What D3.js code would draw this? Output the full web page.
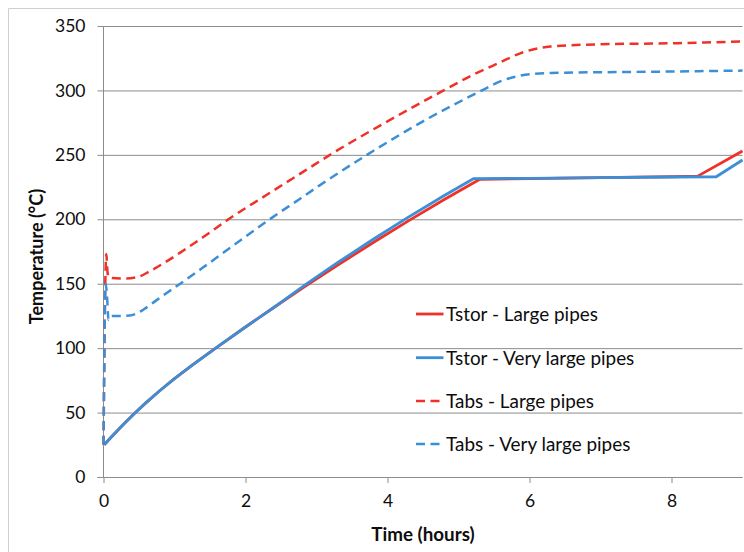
<!DOCTYPE html>
<html>
<head>
<meta charset="utf-8">
<script src="https://cdn.jsdelivr.net/npm/d3@7"></script>
<style>
  html, body { margin: 0; padding: 0; background: #fff; }
  svg { display: block; font-family: Lato, "Open Sans", "Noto Sans", sans-serif; }
</style>
</head>
<body>
<svg id="chart" width="744" height="552"></svg>
<script>
// Axis ticks
const xTicks = [0, 2, 4, 6, 8];
const yTicks = [0, 50, 100, 150, 200, 250, 300, 350];

// Series labels
const seriesNames = [
  "Tstor - Large pipes",
  "Tstor - Very large pipes",
  "Tabs - Large pipes",
  "Tabs - Very large pipes"
];

// Storage temperature, large pipes (time in hours, temperature in °C)
const tstorLargeTime = [0.01, 0.15, 0.3, 0.45, 0.6, 0.8, 1.0, 1.25, 1.57, 2.0, 2.45, 2.85, 3.3, 3.8, 4.3, 4.8, 5.3, 6, 7, 8, 8.37, 9];
const tstorLargeTemp = [25, 33.4, 41.9, 50, 57.7, 67.3, 76.3, 86.8, 99.6, 116.4, 133.5, 148.3, 164.5, 182, 199, 215.3, 231, 231.6, 232.3, 233, 233.5, 253];

// Storage temperature, very large pipes
const tstorVeryLargeTime = [0.01, 0.15, 0.3, 0.45, 0.6, 0.8, 1.0, 1.25, 1.57, 2.0, 2.45, 2.85, 3.3, 3.8, 4.26, 4.8, 5.21, 6, 7, 8, 8.63, 9];
const tstorVeryLargeTemp = [25, 33.4, 41.9, 50, 57.7, 67.3, 76.3, 86.8, 99.6, 116.4, 133.5, 149.5, 166.5, 184.5, 200.5, 218.5, 231.5, 231.8, 232.3, 232.8, 233, 246];

// Absorber temperature, large pipes
const tabsLargeTime = [0, 0.025, 0.04, 0.055, 0.07, 0.12, 0.3, 0.47, 0.65, 0.85, 1.12, 1.4, 1.76, 2.3, 2.86, 3.19, 4.0, 4.79, 5.2, 5.58, 5.87, 6.29, 7, 8, 9];
const tabsLargeTemp = [25, 150, 173, 160, 155, 154.5, 154, 155, 159.6, 166, 175.6, 186, 200, 219, 238.5, 250, 276, 300, 312, 321.6, 328.8, 334, 335.8, 336.6, 338];

// Absorber temperature, very large pipes
const tabsVeryLargeTime = [0, 0.03, 0.05, 0.07, 0.1, 0.2, 0.37, 0.45, 0.56, 0.725, 0.89, 1.08, 1.4, 1.8, 2.34, 2.77, 3.05, 3.71, 4.5, 5.33, 5.58, 5.77, 6.05, 6.5, 7, 8, 9];
const tabsVeryLargeTemp = [25, 150, 140, 122, 125, 125, 125.3, 126.5, 129.8, 136.3, 142.8, 150, 162.5, 178.5, 200, 216, 226.5, 250, 276, 300, 306.8, 310.2, 312.8, 313.8, 314.1, 314.7, 315.4];

const svg = d3.select("#chart");
const plotLeft = 103.5, plotRight = 742.5, plotTop = 26, plotBottom = 477;

const x = d3.scaleLinear().domain([0, 9]).range([plotLeft, plotRight]);
const y = d3.scaleLinear().domain([0, 350]).range([plotBottom, plotTop]);

const gridColor = "#8c8c8c";
const textColor = "#0d0d0d";

// Outer frame (left and top edges)
svg.append("path")
  .attr("d", `M8.5,552 V8.5 H744`)
  .attr("fill", "none")
  .attr("stroke", "#cfcfcf")
  .attr("stroke-width", 1);

// Horizontal gridlines with short ticks on the left
const yAxis = svg.append("g")
  .attr("transform", `translate(${plotLeft},0)`)
  .call(d3.axisLeft(y).tickValues(yTicks).tickSizeInner(-(plotRight - plotLeft)).tickSizeOuter(0).tickPadding(18));
yAxis.select(".domain").remove();
yAxis.selectAll(".tick line")
  .attr("x1", -6)
  .attr("stroke", gridColor)
  .attr("stroke-width", 1);
yAxis.selectAll(".tick text")
  .attr("font-size", 17.5)
  .attr("fill", textColor)
  .attr("font-family", "Lato, sans-serif");

// Vertical axis line
svg.append("line")
  .attr("x1", plotLeft).attr("x2", plotLeft)
  .attr("y1", plotTop).attr("y2", plotBottom)
  .attr("stroke", gridColor);

// Bottom axis
const xAxis = svg.append("g")
  .attr("transform", `translate(0,${plotBottom})`)
  .call(d3.axisBottom(x).tickValues(xTicks).tickSizeInner(6).tickSizeOuter(0).tickPadding(12));
xAxis.select(".domain")
  .attr("d", `M${plotLeft - 6},0.5H${plotRight}`)
  .attr("stroke", gridColor);
xAxis.selectAll(".tick line").attr("stroke", gridColor);
xAxis.selectAll(".tick text")
  .attr("font-size", 17.5)
  .attr("fill", textColor)
  .attr("font-family", "Lato, sans-serif");

// Axis titles
svg.append("text")
  .attr("x", (plotLeft + plotRight) / 2)
  .attr("y", 540.5)
  .attr("text-anchor", "middle")
  .attr("font-size", 18.8)
  .attr("font-weight", "bold")
  .attr("fill", textColor)
  .text("Time (hours)");

svg.append("text")
  .attr("transform", `translate(42.7,${(plotTop + plotBottom) / 2 + 5}) rotate(-90)`)
  .attr("text-anchor", "middle")
  .attr("font-size", 18)
  .attr("font-weight", "bold")
  .attr("fill", textColor)
  .text("Temperature (°C)");

// Series: storage curves have sharp breaks (drawn straight between samples),
// absorber curves are smooth.
const red = "#ee3129", blue = "#3c8fd6";
const series = [
  { name: seriesNames[0], t: tstorLargeTime, v: tstorLargeTemp, color: red, dash: null, width: 2.8, curve: d3.curveLinear },
  { name: seriesNames[1], t: tstorVeryLargeTime, v: tstorVeryLargeTemp, color: blue, dash: null, width: 2.8, curve: d3.curveLinear },
  { name: seriesNames[2], t: tabsLargeTime, v: tabsLargeTemp, color: red, dash: "9,5.5", width: 2.5, curve: d3.curveMonotoneX },
  { name: seriesNames[3], t: tabsVeryLargeTime, v: tabsVeryLargeTemp, color: blue, dash: "9,5.5", width: 2.5, curve: d3.curveMonotoneX }
];

series.forEach(s => {
  const pts = s.t.map((t, i) => [t, s.v[i]]);
  const line = d3.line().x(d => x(d[0])).y(d => y(d[1])).curve(s.curve);
  svg.append("path")
    .datum(pts)
    .attr("d", line)
    .attr("fill", "none")
    .attr("stroke", s.color)
    .attr("stroke-width", s.width)
    .attr("stroke-linejoin", "round")
    .attr("stroke-dasharray", s.dash);
});

// Legend
const legendRows = [314, 357.7, 401, 444];
series.forEach((s, i) => {
  const g = svg.append("g").attr("transform", `translate(0,${legendRows[i]})`);
  g.append("line")
    .attr("x1", 416).attr("x2", 443.5)
    .attr("y1", 0).attr("y2", 0)
    .attr("stroke", s.color)
    .attr("stroke-width", s.width)
    .attr("stroke-dasharray", s.dash ? "9,5.5" : null);
  g.append("text")
    .attr("x", 446)
    .attr("dy", "0.36em")
    .attr("font-size", 18.9)
    .attr("fill", textColor)
    .text(s.name);
});
</script>
</body>
</html>
